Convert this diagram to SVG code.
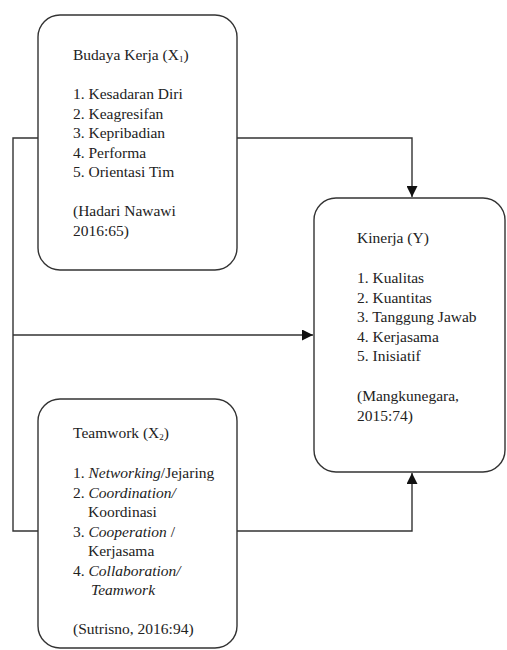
<svg xmlns="http://www.w3.org/2000/svg" width="507" height="650" viewBox="0 0 507 650">
<style>
.box{fill:#fff;stroke:#333;stroke-width:1.4}
.ln{fill:none;stroke:#333;stroke-width:1.4}
.t{font-family:'Liberation Serif','Times New Roman','DejaVu Serif',serif;font-size:15.5px;fill:#222}
.i{font-style:italic}
.sub{font-size:9px}
</style>
<defs>
<marker id="ah" viewBox="0 0 10 10" refX="10" refY="5" markerWidth="11" markerHeight="11" markerUnits="userSpaceOnUse" orient="auto">
<path d="M0,0 L10,5 L0,10 z" fill="#111"/>
</marker>
</defs>
<rect width="507" height="650" fill="#fff"/>
<g id="connectors">
<path class="ln" d="M38,138 H13 V531 H38"/>
<path class="ln" d="M237,138 H412 V197" marker-end="url(#ah)"/>
<path class="ln" d="M13,335 H313" marker-end="url(#ah)"/>
<path class="ln" d="M237,531 H412 V473" marker-end="url(#ah)"/>
</g>
<g id="budaya" class="t" font-family="Liberation Serif, serif">
<rect class="box" x="38" y="15" width="199" height="255" rx="22"/>
<text x="73" y="60">Budaya Kerja (X<tspan class="sub" dy="2">1</tspan><tspan dy="-2">)</tspan></text>
<text x="73" y="99">1. Kesadaran Diri</text>
<text x="73" y="118.5">2. Keagresifan</text>
<text x="73" y="138">3. Kepribadian</text>
<text x="73" y="157.5">4. Performa</text>
<text x="73" y="177">5. Orientasi Tim</text>
<text x="73" y="216">(Hadari Nawawi</text>
<text x="73" y="235.5">2016:65)</text>
</g>
<g id="kinerja" class="t" font-family="Liberation Serif, serif">
<rect class="box" x="314" y="198" width="191" height="274" rx="22"/>
<text x="357" y="243">Kinerja (Y)</text>
<text x="357" y="283">1. Kualitas</text>
<text x="357" y="302.5">2. Kuantitas</text>
<text x="357" y="322">3. Tanggung Jawab</text>
<text x="357" y="341.5">4. Kerjasama</text>
<text x="357" y="361">5. Inisiatif</text>
<text x="357" y="401">(Mangkunegara,</text>
<text x="357" y="420.5">2015:74)</text>
</g>
<g id="teamwork" class="t" font-family="Liberation Serif, serif">
<rect class="box" x="38" y="399" width="199" height="249" rx="22"/>
<text x="73" y="438">Teamwork (X<tspan class="sub" dy="2">2</tspan><tspan dy="-2">)</tspan></text>
<text x="73" y="478">1. <tspan class="i">Networking</tspan>/Jejaring</text>
<text x="73" y="497.5">2. <tspan class="i">Coordination/</tspan></text>
<text x="88" y="517">Koordinasi</text>
<text x="73" y="536.5">3. <tspan class="i">Cooperation</tspan> /</text>
<text x="88" y="556">Kerjasama</text>
<text x="73" y="575.5">4. <tspan class="i">Collaboration/</tspan></text>
<text x="91" y="595" class="i">Teamwork</text>
<text x="73" y="634">(Sutrisno, 2016:94)</text>
</g>
</svg>
